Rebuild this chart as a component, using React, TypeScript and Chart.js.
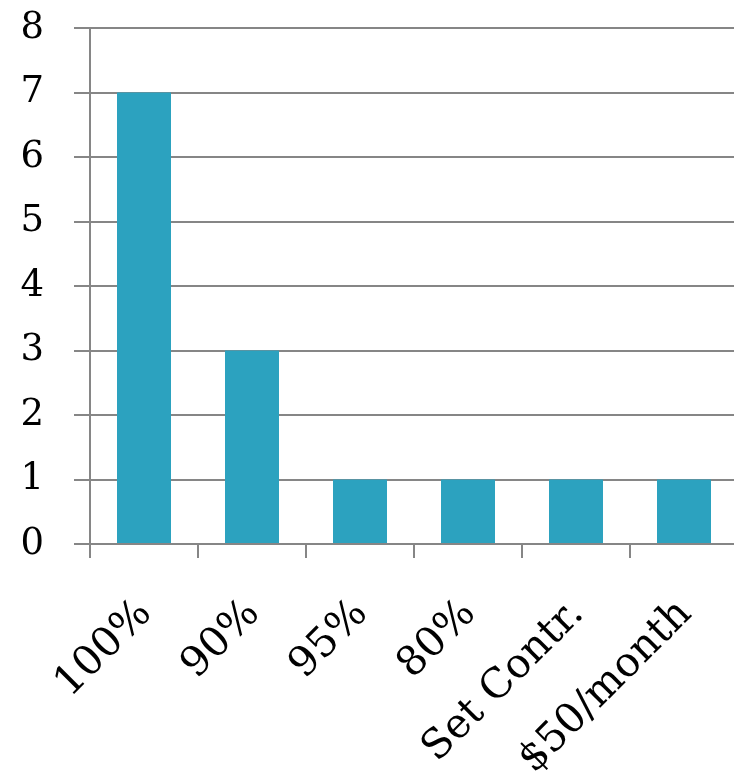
import React, { useEffect, useRef } from "react";
import { Chart, registerables } from "chart.js";

Chart.register(...registerables);

const categories = ["100%", "90%", "95%", "80%", "Set Contr.", "$50/month"];
const counts = [7, 3, 1, 1, 1, 1];
const yMin = 0;
const yMax = 8;
const yStep = 1;

const FONT = "'DejaVu Serif', serif";
const GRID = "#868686";
const BAR = "#2ca2bf";

const rotatedLabels = {
  id: "rotatedLabels",
  afterDraw(chart: any) {
    const { ctx, chartArea } = chart;
    const xs = chart.scales.x;
    ctx.save();
    ctx.fillStyle = "#000";
    ctx.font = `41px ${FONT}`;
    ctx.textAlign = "right";
    ctx.textBaseline = "alphabetic";
    categories.forEach((label, i) => {
      const x = xs.getPixelForValue(i) + 9;
      const y = chartArea.bottom + 71;
      ctx.save();
      ctx.translate(x, y);
      ctx.rotate(-Math.PI / 4);
      ctx.fillText(label, 0, 0);
      ctx.restore();
    });
    ctx.restore();
  },
};

export default function App() {
  const ref = useRef<HTMLCanvasElement | null>(null);
  useEffect(() => {
    const canvas = ref.current;
    if (!canvas) return;
    const chart = new Chart(canvas, {
      type: "bar",
      data: {
        labels: categories,
        datasets: [
          {
            data: counts,
            backgroundColor: BAR,
            borderWidth: 0,
            barPercentage: 0.5,
            categoryPercentage: 1,
          },
        ],
      },
      options: {
        responsive: false,
        animation: false,
        layout: { padding: { top: 28, left: 0, right: 0, bottom: 0 } },
        plugins: { legend: { display: false }, tooltip: { enabled: false } },
        scales: {
          x: {
            grid: {
              offset: true,
              drawOnChartArea: false,
              drawTicks: true,
              tickLength: 14,
              color: GRID,
              lineWidth: 2,
            },
            border: { display: true, color: GRID, width: 2 },
            ticks: { display: false },
            afterFit: (scale: any) => {
              scale.height = 230;
              scale.paddingLeft = 0;
              scale.paddingRight = 0;
            },
          },
          y: {
            min: yMin,
            max: yMax,
            grid: {
              color: GRID,
              lineWidth: 2,
              tickLength: 16,
              drawTicks: true,
            },
            border: { display: true, color: GRID, width: 2 },
            ticks: {
              stepSize: yStep,
              font: { family: FONT, size: 37 },
              color: "#000",
              padding: 30,
            },
            afterFit: (scale: any) => {
              scale.width = 90;
              scale.paddingTop = 0;
              scale.paddingBottom = 0;
            },
          },
        },
      },
      plugins: [rotatedLabels],
    });
    return () => chart.destroy();
  }, []);
  return (
    <div
      style={{
        position: "absolute",
        left: 0,
        top: 0,
        width: 734,
        height: 774,
        overflow: "hidden",
        background: "#fff",
      }}
    >
      <canvas ref={ref} width={738} height={774} style={{ width: 738, height: 774, display: "block" }} />
    </div>
  );
}
